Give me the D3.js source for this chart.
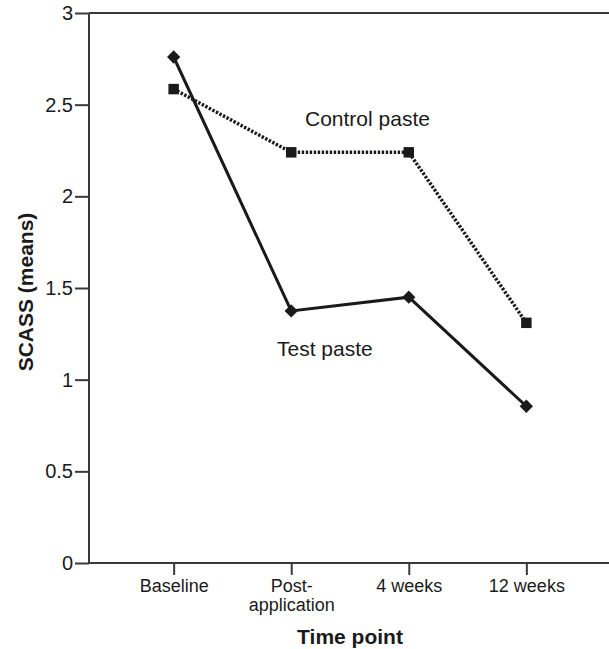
<!DOCTYPE html>
<html>
<head>
<meta charset="utf-8">
<script src="https://cdn.jsdelivr.net/npm/d3@7"></script>
<style>
    html, body { margin: 0; padding: 0; background: #fff; }
    svg { display: block; font-family: "Liberation Sans", Arial, sans-serif; }
</style>
</head>
<body>
<svg id="chart" width="609" height="649"></svg>
<script>
const timePoints = ["Baseline", "Post-application", "4 weeks", "12 weeks"];
const testPaste = [2.76, 1.375, 1.45, 0.855];
const controlPaste = [2.585, 2.24, 2.24, 1.31];
const yTicks = [0, 0.5, 1, 1.5, 2, 2.5, 3];

const AXIS_COLOR = "#3a3a3a";
const INK = "#1a1a1a";

const svg = d3.select("#chart");
const plot = { left: 89, right: 611, top: 13, bottom: 563 };

const x = d3.scalePoint()
    .domain(timePoints)
    .range([plot.left, plot.right])
    .padding(0.72);

const y = d3.scaleLinear()
    .domain([0, 3])
    .range([plot.bottom, plot.top]);

// top frame line
svg.append("line")
    .attr("x1", plot.left).attr("x2", 609)
    .attr("y1", y(3)).attr("y2", y(3))
    .attr("stroke", AXIS_COLOR)
    .attr("stroke-width", 2);

// y axis
const yAxis = svg.append("g")
    .attr("transform", `translate(${ plot.left },0)`)
    .call(d3.axisLeft(y).tickValues(yTicks).tickSize(14).tickPadding(2).tickFormat(d3.format("")));

yAxis.select(".domain")
    .attr("d", `M0,${ plot.top }V${ plot.bottom }`)
    .attr("stroke", AXIS_COLOR)
    .attr("stroke-width", 2);
yAxis.selectAll(".tick line").attr("stroke", AXIS_COLOR).attr("stroke-width", 2);
yAxis.selectAll(".tick text")
    .attr("fill", INK)
    .style("font-size", "20px")
    .style("font-family", "Liberation Sans, Arial, sans-serif");

// x axis
const xAxis = svg.append("g")
    .attr("transform", `translate(0,${ plot.bottom })`)
    .call(d3.axisBottom(x).tickSize(12).tickPadding(5).tickFormat(""));

xAxis.select(".domain")
    .attr("d", `M${ plot.left },0H609`)
    .attr("stroke", AXIS_COLOR)
    .attr("stroke-width", 2);
xAxis.selectAll(".tick line").attr("stroke", AXIS_COLOR).attr("stroke-width", 2);

// x tick labels, wrapping the hyphenated one
xAxis.selectAll(".tick")
    .each((d, i, nodes) => {
        const parts = d === "Post-application" ? ["Post-", "application"] : [d];
        const text = d3.select(nodes[i]).append("text")
            .attr("fill", INK)
            .attr("text-anchor", "middle")
            .style("font-size", "18px")
            .style("font-family", "Liberation Sans, Arial, sans-serif");
        parts.forEach((p, j) => {
            text.append("tspan")
                .attr("x", 0)
                .attr("y", 29 + j * 19)
                .text(p);
        });
    });

// axis titles
svg.append("text")
    .attr("x", 350)
    .attr("y", 644)
    .attr("text-anchor", "middle")
    .attr("fill", INK)
    .style("font-size", "21px")
    .style("font-weight", "bold")
    .text("Time point");

svg.append("text")
    .attr("transform", "translate(33,292) rotate(-90)")
    .attr("text-anchor", "middle")
    .attr("fill", INK)
    .style("font-size", "21px")
    .style("font-weight", "bold")
    .text("SCASS (means)");

// series
const line = d3.line()
    .x((d, i) => x(timePoints[i]))
    .y(d => y(d));

svg.append("path")
    .datum(controlPaste)
    .attr("d", line)
    .attr("fill", "none")
    .attr("stroke", INK)
    .attr("stroke-width", 3.5)
    .attr("stroke-dasharray", "2.4,1.6");

svg.append("path")
    .datum(testPaste)
    .attr("d", line)
    .attr("fill", "none")
    .attr("stroke", INK)
    .attr("stroke-width", 3);

svg.selectAll(".square")
    .data(controlPaste)
    .enter()
    .append("path")
    .attr("class", "square")
    .attr("transform", (d, i) => `translate(${ x(timePoints[i]) },${ y(d) })`)
    .attr("d", d3.symbol(d3.symbolSquare, 110))
    .attr("fill", INK);

svg.selectAll(".diamond")
    .data(testPaste)
    .enter()
    .append("path")
    .attr("class", "diamond")
    .attr("transform", (d, i) => `translate(${ x(timePoints[i]) },${ y(d) }) rotate(45)`)
    .attr("d", d3.symbol(d3.symbolSquare, 88))
    .attr("fill", INK);

// series labels
svg.append("text")
    .attr("x", 305)
    .attr("y", 126)
    .attr("fill", INK)
    .style("font-size", "21px")
    .text("Control paste");

svg.append("text")
    .attr("x", 277)
    .attr("y", 356)
    .attr("fill", INK)
    .style("font-size", "21px")
    .text("Test paste");
</script>
</body>
</html>
